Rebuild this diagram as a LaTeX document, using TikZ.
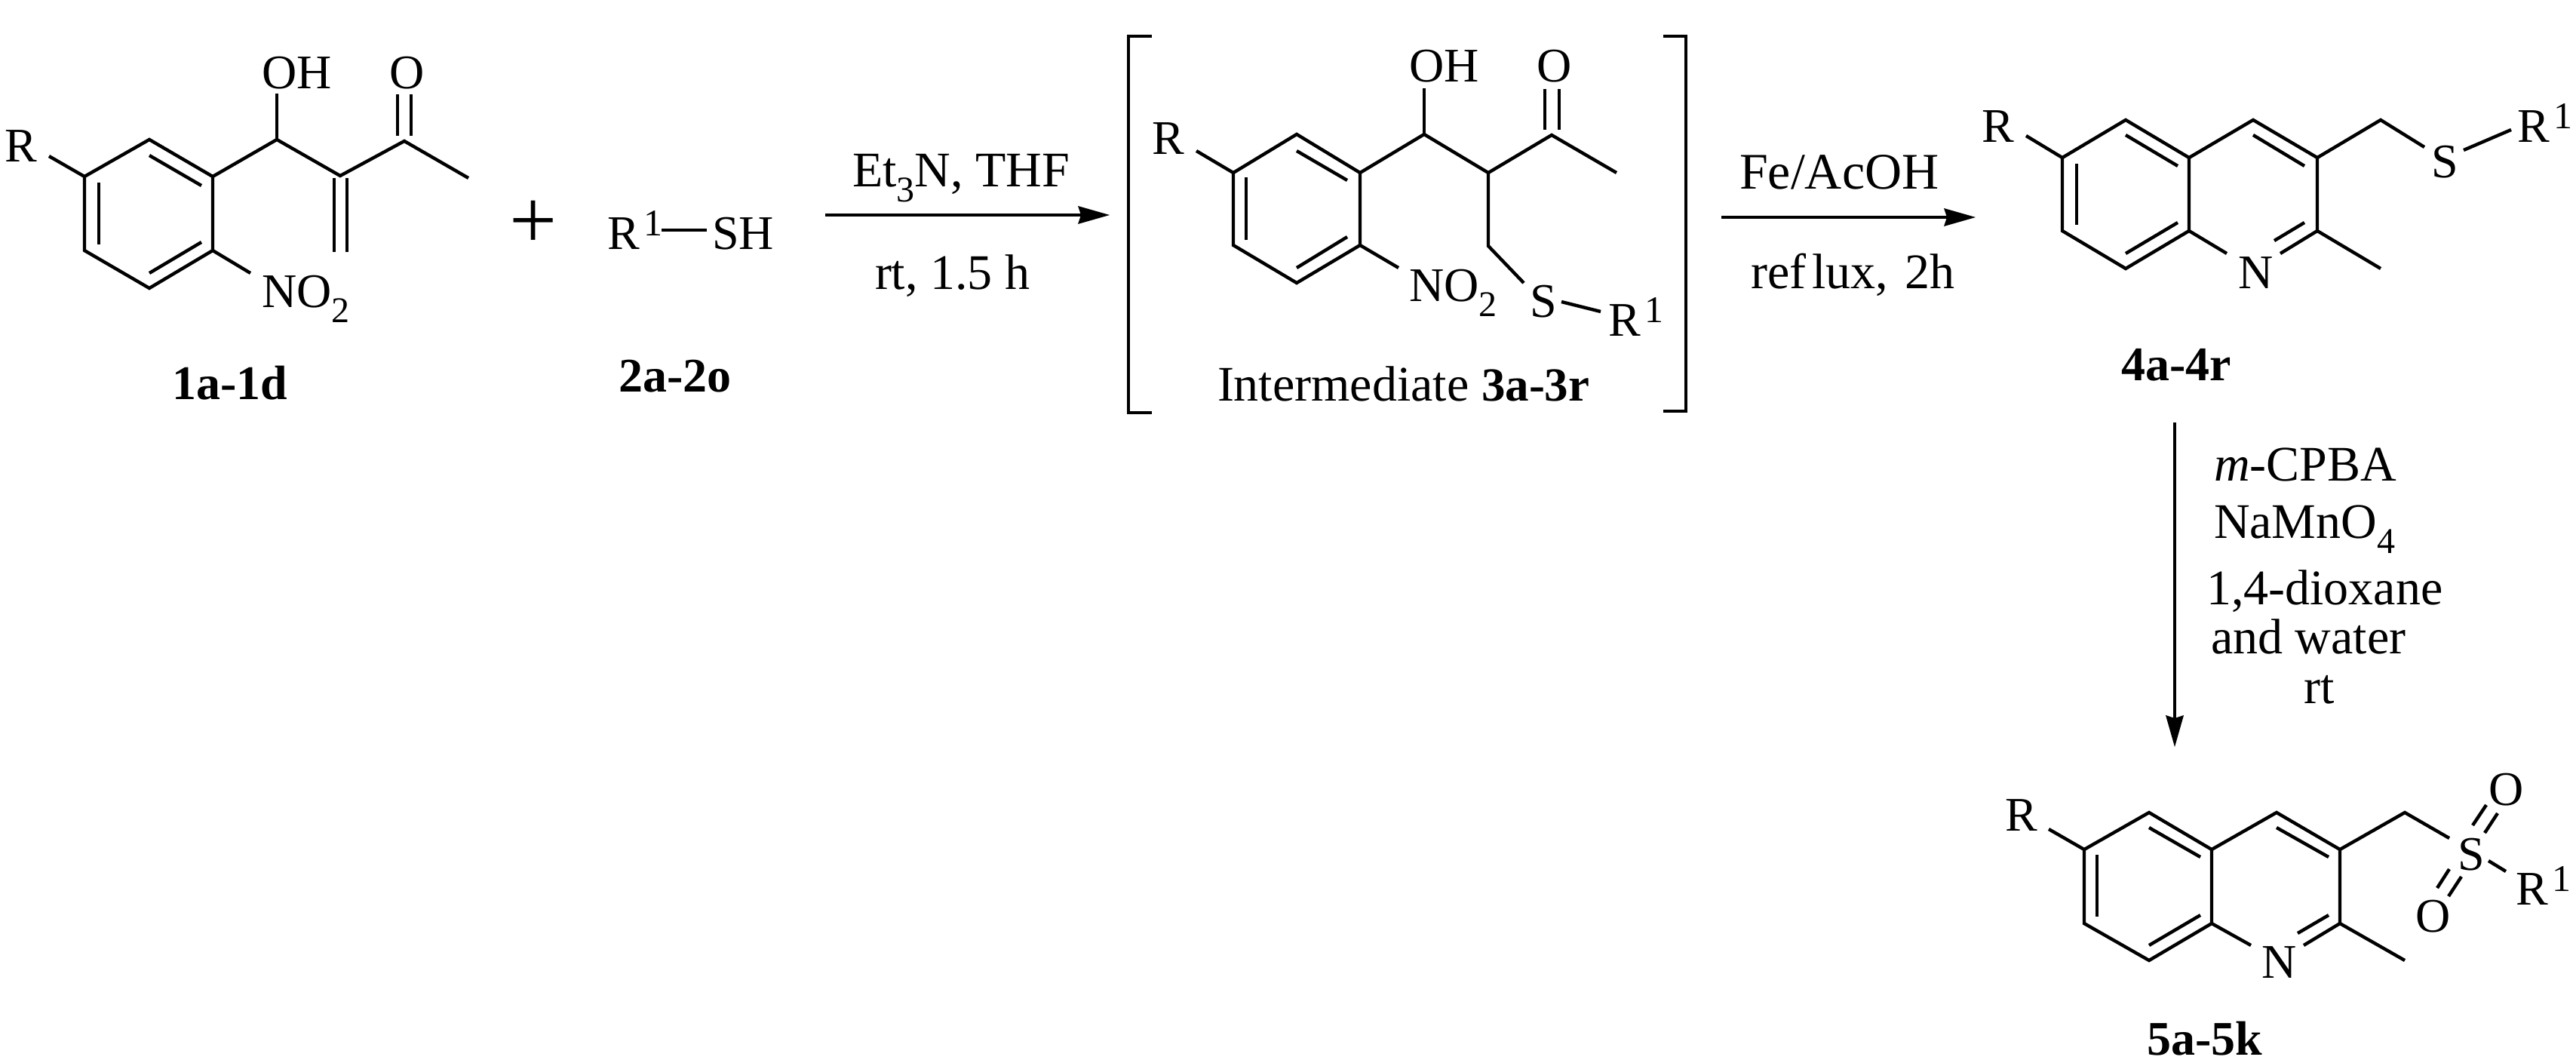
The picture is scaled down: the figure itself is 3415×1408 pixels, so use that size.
\documentclass[tikz,border=0pt]{standalone}
\usepackage{fontspec}
\setmainfont{Liberation Serif}
\usetikzlibrary{arrows.meta}
\newcommand{\chemsub}[1]{\raisebox{-10pt}{\fontsize{24}{24}\selectfont #1}}
\newcommand{\Rone}{R\kern3pt\raisebox{9pt}{\fontsize{25}{25}\selectfont 1}}
\tikzset{
  bond/.style={line width=2.2pt,line join=miter,line cap=butt,draw=black},
  dbl/.style={line width=2.2pt,line cap=butt,draw=black},
  brk/.style={line width=2.4pt,line join=miter,draw=black},
  rxn/.style={line width=2.2pt,draw=black,-{Stealth[length=21pt,width=12pt,inset=2pt,line width=0pt]}},
  lab/.style={anchor=base west,inner sep=0pt,outer sep=0pt,font=\fontsize{32}{38}\selectfont},
  captxt/.style={anchor=base west,inner sep=0pt,outer sep=0pt,font=\fontsize{33}{40}\selectfont},
  boldtxt/.style={anchor=base west,inner sep=0pt,outer sep=0pt,font=\fontsize{32}{38}\selectfont\bfseries},
}
\begin{document}
\begin{tikzpicture}[x=0.5pt,y=-0.5pt]
\useasboundingbox (0,0) rectangle (3415,1408);
\fill[white] (0,0) rectangle (3415,1408);

% ---------- 1a-1d
\coordinate (a1) at (198,185); \coordinate (a2) at (282,234); \coordinate (a3) at (282,332);
\coordinate (a4) at (198,382); \coordinate (a5) at (112,332); \coordinate (a6) at (112,234);
\coordinate (aRe) at (65,207); \coordinate (aCH) at (367,185); \coordinate (aOHe) at (367,124);
\coordinate (aC) at (451,233); \coordinate (aCO) at (536,187); \coordinate (aMe) at (621,236);
\coordinate (aNe) at (332,362);
\coordinate (aIa) at (198,206); \coordinate (aIb) at (267,246);
\coordinate (aIc) at (131,242); \coordinate (aId) at (131,324);
\coordinate (aIe) at (198,362); \coordinate (aIf) at (267,321);
\coordinate (aDa1) at (443,236); \coordinate (aDa2) at (443,334);
\coordinate (aDb1) at (460,236); \coordinate (aDb2) at (460,334);
\coordinate (aOa1) at (527,180); \coordinate (aOa2) at (527,125);
\coordinate (aOb1) at (545,180); \coordinate (aOb2) at (545,125);
\draw[bond] (a1)--(a2)--(a3)--(a4)--(a5)--(a6)--cycle;
\draw[bond] (aRe)--(a6);
\draw[bond] (a2)--(aCH)--(aC)--(aCO)--(aMe);
\draw[bond] (aCH)--(aOHe);
\draw[bond] (a3)--(aNe);
\draw[dbl] (aIa)--(aIb); \draw[dbl] (aIc)--(aId); \draw[dbl] (aIe)--(aIf);
\draw[dbl] (aDa1)--(aDa2); \draw[dbl] (aDb1)--(aDb2);
\draw[dbl] (aOa1)--(aOa2); \draw[dbl] (aOb1)--(aOb2);
\node[lab] (aR) at (6,214) {R};
\node[lab] (aOH) at (347,117) {OH};
\node[lab] (aO) at (516,117) {O};
\node[lab] (aNO) at (347,407) {NO\chemsub{2}};
\node[boldtxt] (aName) at (228,529) {1a-1d};

% ---------- plus, R1-SH
\node[anchor=base,inner sep=0pt,font=\fontsize{56}{56}\selectfont] (plus) at (707,329) {+};
\node[lab] (bR) at (805,330) {\Rone};
\node[lab] (bSH) at (944,330) {SH};
\coordinate (bDa) at (877,305); \coordinate (bDb) at (937,305);
\draw[bond] (bDa)--(bDb);
\node[boldtxt] (bName) at (820,519) {2a-2o};

% ---------- arrow 1
\coordinate (r1s) at (1094,285); \coordinate (r1e) at (1471,285);
\draw[rxn] (r1s)--(r1e);
\node[captxt] (r1a) at (1130,247) {Et\chemsub{3}N, THF};
\node[captxt] (r1b) at (1160,383) {rt, 1.5 h};

% ---------- brackets
\coordinate (bl1) at (1527,48); \coordinate (bl2) at (1496,48); \coordinate (bl3) at (1496,547); \coordinate (bl4) at (1527,547);
\coordinate (br1) at (2205,48); \coordinate (br2) at (2235,48); \coordinate (br3) at (2235,545); \coordinate (br4) at (2205,545);
\draw[brk] (bl1)--(bl2)--(bl3)--(bl4);
\draw[brk] (br1)--(br2)--(br3)--(br4);

% ---------- intermediate 3
\coordinate (c1) at (1719,178); \coordinate (c2) at (1803,229); \coordinate (c3) at (1803,325);
\coordinate (c4) at (1719,375); \coordinate (c5) at (1635,325); \coordinate (c6) at (1635,229);
\coordinate (cRe) at (1586,200); \coordinate (cCH) at (1888,178); \coordinate (cOHe) at (1888,117);
\coordinate (cC) at (1973,229); \coordinate (cCO) at (2057,179); \coordinate (cMe) at (2143,229);
\coordinate (cCH2) at (1973,326); \coordinate (cSe) at (2020,375); \coordinate (cNe) at (1854,355);
\coordinate (cSRa) at (2070,400); \coordinate (cSRb) at (2122,413);
\coordinate (cIa) at (1719,200); \coordinate (cIb) at (1786,239);
\coordinate (cIc) at (1652,235); \coordinate (cId) at (1652,318);
\coordinate (cIe) at (1719,355); \coordinate (cIf) at (1786,314);
\coordinate (cOa1) at (2048,172); \coordinate (cOa2) at (2048,118);
\coordinate (cOb1) at (2067,172); \coordinate (cOb2) at (2067,118);
\draw[bond] (c1)--(c2)--(c3)--(c4)--(c5)--(c6)--cycle;
\draw[bond] (cRe)--(c6);
\draw[bond] (c2)--(cCH)--(cC)--(cCO)--(cMe);
\draw[bond] (cCH)--(cOHe);
\draw[bond] (cC)--(cCH2)--(cSe);
\draw[bond] (c3)--(cNe);
\draw[bond] (cSRa)--(cSRb);
\draw[dbl] (cIa)--(cIb); \draw[dbl] (cIc)--(cId); \draw[dbl] (cIe)--(cIf);
\draw[dbl] (cOa1)--(cOa2); \draw[dbl] (cOb1)--(cOb2);
\node[lab] (cR) at (1527,204) {R};
\node[lab] (cOH) at (1868,108) {OH};
\node[lab] (cO) at (2037,108) {O};
\node[lab] (cNO) at (1868,399) {NO\chemsub{2}};
\node[lab] (cS) at (2028,420) {S};
\node[lab] (cR1) at (2132,445) {\Rone};
\node[captxt] (cName) at (1614,531) {Intermediate {\fontsize{31.5}{40}\selectfont\bfseries 3a-3r}};

% ---------- arrow 2
\coordinate (r2s) at (2282,288); \coordinate (r2e) at (2619,288);
\draw[rxn] (r2s)--(r2e);
\node[captxt,font=\fontsize{34}{40}\selectfont] (r2a) at (2306,250) {Fe/AcOH};
\node[captxt] (r2b) at (2321,382) {ref\kern4pt lux,\kern3pt\ 2h};

% ---------- 4a-4r
\coordinate (d1) at (2818,159); \coordinate (d2) at (2902,209); \coordinate (d3) at (2902,306);
\coordinate (d4) at (2818,356); \coordinate (d5) at (2734,306); \coordinate (d6) at (2734,209);
\coordinate (d7) at (2987,159); \coordinate (d8) at (3072,209); \coordinate (d9) at (3072,306);
\coordinate (dNa) at (2952,336); \coordinate (dNb) at (3023,336);
\coordinate (dRe) at (2686,180); \coordinate (dMe) at (3156,356);
\coordinate (dCH2) at (3156,159); \coordinate (dSe) at (3214,195);
\coordinate (dSRa) at (3266,199); \coordinate (dSRb) at (3329,172);
\coordinate (dIa) at (2818,179); \coordinate (dIb) at (2887,220);
\coordinate (dIc) at (2753,217); \coordinate (dId) at (2753,298);
\coordinate (dIe) at (2818,336); \coordinate (dIf) at (2887,295);
\coordinate (dIg) at (2987,179); \coordinate (dIh) at (3055,220);
\coordinate (dIi) at (3055,295); \coordinate (dIj) at (3015,319);
\draw[bond] (d1)--(d2)--(d3)--(d4)--(d5)--(d6)--cycle;
\draw[bond] (d2)--(d7)--(d8)--(d9)--(dNb);
\draw[bond] (d3)--(dNa);
\draw[bond] (dRe)--(d6);
\draw[bond] (d9)--(dMe);
\draw[bond] (d8)--(dCH2)--(dSe);
\draw[bond] (dSRa)--(dSRb);
\draw[dbl] (dIa)--(dIb); \draw[dbl] (dIc)--(dId); \draw[dbl] (dIe)--(dIf);
\draw[dbl] (dIg)--(dIh); \draw[dbl] (dIi)--(dIj);
\node[lab] (dR) at (2627,188) {R};
\node[lab] (dN) at (2967,382) {N};
\node[lab] (dS) at (3223,235) {S};
\node[lab] (dR1) at (3337,188) {\Rone};
\node[boldtxt] (dName) at (2812,504) {4a-4r};

% ---------- arrow 3
\coordinate (r3s) at (2883,560); \coordinate (r3e) at (2883,990);
\draw[rxn] (r3s)--(r3e);
\node[captxt] (r3a) at (2935,637) {\textit{m}-CPBA};
\node[captxt] (r3b) at (2935,713) {NaMnO\chemsub{4}};
\node[captxt] (r3c) at (2925,801) {1,4-dioxane};
\node[captxt] (r3d) at (2931,866) {and water};
\node[captxt] (r3f) at (3054,932) {rt};

% ---------- 5a-5k
\coordinate (e1) at (2849,1077); \coordinate (e2) at (2932,1126); \coordinate (e3) at (2932,1224);
\coordinate (e4) at (2849,1273); \coordinate (e5) at (2763,1224); \coordinate (e6) at (2763,1126);
\coordinate (e7) at (3018,1077); \coordinate (e8) at (3102,1126); \coordinate (e9) at (3102,1224);
\coordinate (eNa) at (2984,1253); \coordinate (eNb) at (3054,1253);
\coordinate (eRe) at (2716,1099); \coordinate (eMe) at (3188,1273);
\coordinate (eCH2) at (3188,1077); \coordinate (eSe) at (3247,1111);
\coordinate (eSRa) at (3299,1141); \coordinate (eSRb) at (3322,1155);
\coordinate (eIa) at (2849,1097); \coordinate (eIb) at (2917,1136);
\coordinate (eIc) at (2780,1133); \coordinate (eId) at (2780,1215);
\coordinate (eIe) at (2849,1253); \coordinate (eIf) at (2917,1213);
\coordinate (eIg) at (3018,1097); \coordinate (eIh) at (3087,1136);
\coordinate (eIi) at (3087,1213); \coordinate (eIj) at (3046,1237);
\coordinate (eUa1) at (3278,1094); \coordinate (eUa2) at (3296,1067);
\coordinate (eUb1) at (3294,1104); \coordinate (eUb2) at (3311,1078);
\coordinate (eLa1) at (3231,1177); \coordinate (eLa2) at (3247,1152);
\coordinate (eLb1) at (3246,1188); \coordinate (eLb2) at (3263,1162);
\draw[bond] (e1)--(e2)--(e3)--(e4)--(e5)--(e6)--cycle;
\draw[bond] (e2)--(e7)--(e8)--(e9)--(eNb);
\draw[bond] (e3)--(eNa);
\draw[bond] (eRe)--(e6);
\draw[bond] (e9)--(eMe);
\draw[bond] (e8)--(eCH2)--(eSe);
\draw[bond] (eSRa)--(eSRb);
\draw[dbl] (eIa)--(eIb); \draw[dbl] (eIc)--(eId); \draw[dbl] (eIe)--(eIf);
\draw[dbl] (eIg)--(eIh); \draw[dbl] (eIi)--(eIj);
\draw[dbl] (eUa1)--(eUa2); \draw[dbl] (eUb1)--(eUb2);
\draw[dbl] (eLa1)--(eLa2); \draw[dbl] (eLb1)--(eLb2);
\node[lab] (eR) at (2658,1101) {R};
\node[lab] (eN) at (2998,1296) {N};
\node[lab] (eS) at (3258,1153) {S};
\node[lab] (eOu) at (3299,1067) {O};
\node[lab] (eOl) at (3202,1235) {O};
\node[lab] (eR1) at (3335,1199) {\Rone};
\node[boldtxt] (eName) at (2846,1398) {5a-5k};
\end{tikzpicture}
\end{document}
